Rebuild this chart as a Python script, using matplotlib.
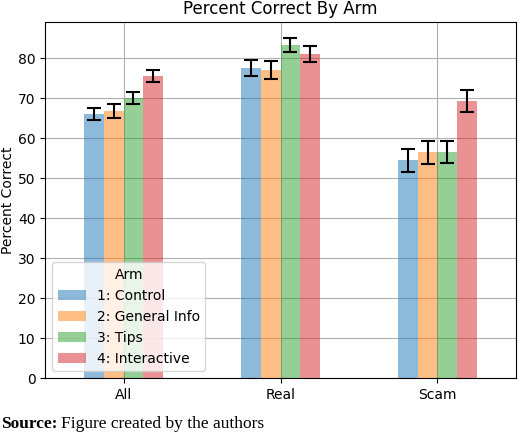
import numpy as np
import matplotlib
matplotlib.use("Agg")
import matplotlib.pyplot as plt

categories = ["All", "Real", "Scam"]
arms = ["1: Control", "2: General Info", "3: Tips", "4: Interactive"]
values = [
    [65.9, 77.6, 54.4],
    [66.7, 77.0, 56.4],
    [70.0, 83.2, 56.5],
    [75.5, 81.1, 69.3],
]
errors = [
    [1.5, 2.0, 2.9],
    [1.7, 2.2, 2.8],
    [1.5, 1.8, 2.8],
    [1.6, 2.0, 2.8],
]
colors = ["#1f77b4", "#ff7f0e", "#2ca02c", "#d62728"]

fig = plt.figure(figsize=(5.2, 4.33), dpi=100)
ax = fig.add_axes([0.087, 0.127, 0.905, 0.822])
x = np.arange(len(categories))
w = 0.125
for i, arm in enumerate(arms):
    ax.bar(x + (i - 1.5) * w, values[i], w, yerr=errors[i], capsize=5,
           color=colors[i], alpha=0.5, label=arm, zorder=2,
           error_kw=dict(elinewidth=1.5, capthick=1.5, zorder=3))
ax.set_xticks(x)
ax.set_xticklabels(categories)
ax.set_xlim(-0.5, 2.5)
ax.set_ylim(0, 89)
ax.grid(True, color="#b0b0b0", linewidth=0.8, zorder=0)
ax.set_axisbelow(True)
ax.set_ylabel("Percent Correct", labelpad=2)
ax.set_title("Percent Correct By Arm")
ax.legend(title="Arm", loc="lower left")
fig.text(0.003, 0.012, "Source:", family="Liberation Serif", weight="bold", fontsize=12.5)
fig.text(0.118, 0.012, "Figure created by the authors", family="Liberation Serif", fontsize=12.5)
fig.savefig("out.png", dpi=100)
